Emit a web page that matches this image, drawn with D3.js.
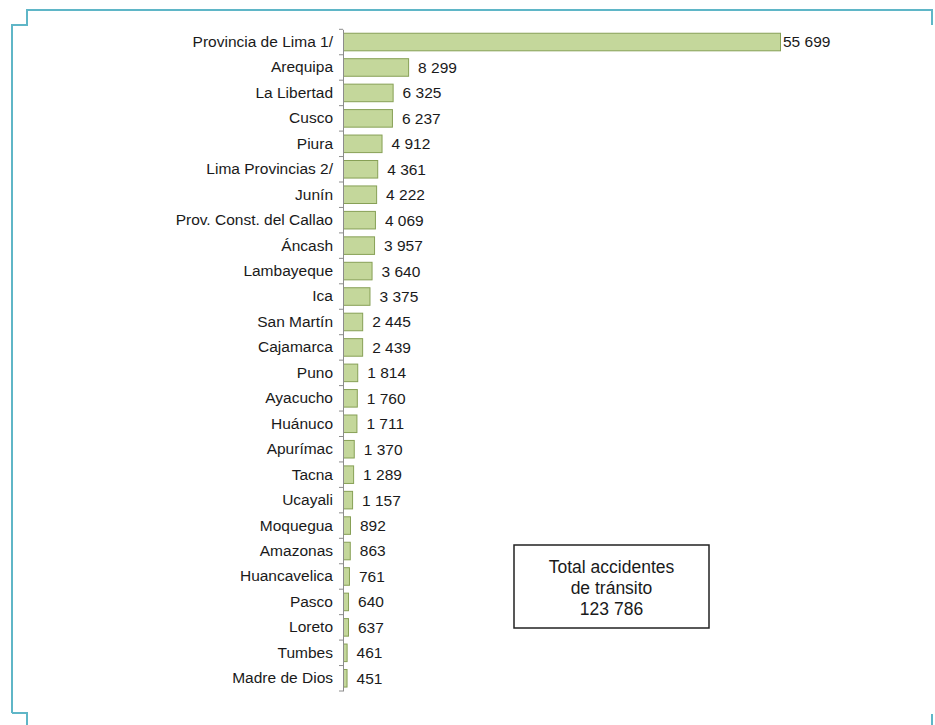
<!DOCTYPE html>
<html>
<head>
<meta charset="utf-8">
<script src="https://cdn.jsdelivr.net/npm/d3@7"></script>
<style>
  html, body { margin: 0; padding: 0; background: #ffffff; }
  svg { display: block; }
  text { font-family: "Liberation Sans", Arial, sans-serif; }
</style>
</head>
<body>
<svg id="chart" width="935" height="725"></svg>
<script>
const categories = [
  "Provincia de Lima 1/", "Arequipa", "La Libertad", "Cusco", "Piura",
  "Lima Provincias 2/", "Junín", "Prov. Const. del Callao", "Áncash", "Lambayeque",
  "Ica", "San Martín", "Cajamarca", "Puno", "Ayacucho", "Huánuco", "Apurímac",
  "Tacna", "Ucayali", "Moquegua", "Amazonas", "Huancavelica", "Pasco", "Loreto",
  "Tumbes", "Madre de Dios"
];
const values = [
  55699, 8299, 6325, 6237, 4912, 4361, 4222, 4069, 3957, 3640,
  3375, 2445, 2439, 1814, 1760, 1711, 1370, 1289, 1157, 892,
  863, 761, 640, 637, 461, 451
];
const boxLines = ["Total accidentes", "de tránsito", "123 786"];

const svg = d3.select("#chart");

// frame
const frameColor = "#5fb6c7";
const frame = svg.append("g").attr("fill", "none").attr("stroke", frameColor).attr("stroke-width", 2);
frame.append("path").attr("d", "M12,713 L12,25 L27,25 L27,10 L932,10 L932,25");
frame.append("path").attr("d", "M12,713 L27,713 L27,725");
frame.append("path").attr("d", "M932,714 L932,725");

const x0 = 343;
const x = d3.scaleLinear().domain([0, 55699]).range([x0, 780]);
const y = d3.scaleBand().domain(categories).range([29.3, 691]).paddingInner(0.31).paddingOuter(0.155);

const fmt = v => d3.format(",")(v).replace(/,/g, " ");

// bars
svg.append("g").selectAll("rect").data(values).join("rect")
  .attr("x", x(0) + 0.5)
  .attr("y", (d, i) => y(categories[i]))
  .attr("width", d => x(d) - x(0))
  .attr("height", y.bandwidth())
  .attr("fill", "#c4d79b")
  .attr("stroke", "#87a056")
  .attr("stroke-width", 1);

// axis
const yAxis = d3.axisLeft(y).tickSize(0).tickPadding(10);
const ax = svg.append("g").attr("transform", `translate(${x0},0)`).call(yAxis);
ax.select(".domain").attr("stroke", "#8c8c8c").attr("stroke-width", 1);
ax.selectAll("text").attr("font-size", 15.5).attr("fill", "#1a1a1a")
  .attr("font-family", "'Liberation Sans', Arial, sans-serif");

// band boundary ticks
const step = y.step();
const bounds = d3.range(categories.length + 1).map(i => 29.3 + i * step);
svg.append("g").selectAll("line").data(bounds).join("line")
  .attr("x1", x0 - 4).attr("x2", x0)
  .attr("y1", d => d).attr("y2", d => d)
  .attr("stroke", "#8c8c8c").attr("stroke-width", 1);

// value labels
svg.append("g").selectAll("text").data(values).join("text")
  .attr("x", (d, i) => x(d) + (i === 0 ? 3 : 10))
  .attr("y", (d, i) => y(categories[i]) + y.bandwidth() / 2)
  .attr("dy", "0.35em")
  .attr("font-size", 15.5)
  .attr("fill", "#1a1a1a")
  .text(d => fmt(d));

// total box
const box = svg.append("g");
box.append("rect").attr("x", 514).attr("y", 545).attr("width", 195).attr("height", 83)
  .attr("fill", "#fff").attr("stroke", "#222").attr("stroke-width", 1.5);
box.selectAll("text").data(boxLines).join("text")
  .attr("x", 611.5)
  .attr("y", (d, i) => 567 + i * 21)
  .attr("dy", "0.35em")
  .attr("text-anchor", "middle")
  .attr("font-size", 17.5)
  .attr("fill", "#1a1a1a")
  .text(d => d);
</script>
</body>
</html>
